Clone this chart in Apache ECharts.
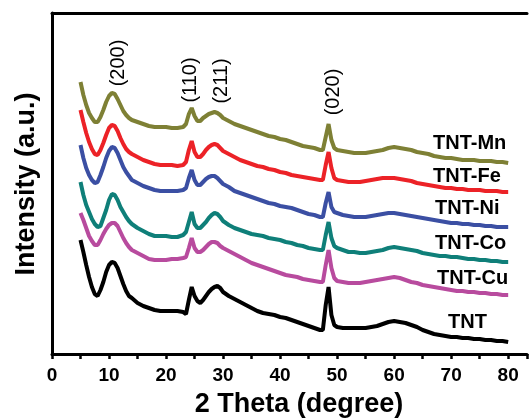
<!DOCTYPE html>
<html>
<head>
<meta charset="utf-8">
<title>XRD patterns</title>
<script src="https://cdn.jsdelivr.net/npm/echarts@6/dist/echarts.min.js"></script>
<style>
    html, body { margin: 0; padding: 0; background: #fff; }
    #chart { width: 530px; height: 418px; }
</style>
</head>
<body>
<div id="chart"></div>
<script>
// ======================
// DATA
// ======================

// 2 theta sampling (degree)
const twoTheta = [
    5, 5.5, 6, 6.5, 7, 7.5, 8, 8.5, 9, 9.5, 10, 10.5, 11, 11.5, 12, 12.5, 13, 13.5, 14,
    15, 16, 17, 18, 19, 20, 21, 22, 23,
    23.5, 24, 24.5, 25, 25.5, 26, 26.5, 27, 27.5, 28, 28.5, 29, 29.5, 30,
    31, 32, 33, 34, 35, 36, 37, 38, 39, 40, 41, 42, 43, 44, 45, 46, 47,
    47.5, 48, 48.5, 49, 49.5,
    50, 51, 52, 53, 54, 55, 56, 57, 58, 59, 60, 61, 62, 63, 64, 65, 66, 67, 68, 69, 70,
    71, 72, 73, 74, 75, 76, 77, 78, 79, 80
];

// intensities (a.u., stacked offsets as plotted)
const tnt = [
    114, 102, 89, 77, 67, 60, 58, 64, 72, 82, 89, 92, 91, 86, 78, 70, 63, 58, 56,
    51, 48, 46, 44, 43, 43, 43, 43, 42,
    40, 54, 67, 58, 53, 51, 54, 58, 62, 65, 67, 68, 66, 62,
    58, 55, 52, 49, 46, 43, 41, 40, 39, 37, 36, 34, 32, 30, 28, 26, 24,
    24, 49, 67, 39, 29,
    27, 26, 26, 26, 26, 26, 27, 28, 30, 32, 33, 32, 31, 29, 27, 24, 22, 20, 19, 18, 17,
    17, 16, 16, 15, 15, 14, 14, 13, 13, 12
];
const tntCu = [
    141, 134, 126, 118, 113, 109, 109, 114, 120, 125, 129, 131, 131, 128, 122, 116, 111, 107, 104,
    101, 98, 95, 94, 94, 94, 95, 95, 96,
    97, 106, 116, 106, 102, 102, 104, 107, 110, 112, 112, 111, 108, 106,
    103, 100, 97, 94, 91, 89, 87, 85, 83, 81, 79, 78, 77, 75, 74, 73, 72,
    72, 89, 104, 86, 76,
    73, 72, 71, 71, 71, 72, 73, 74, 75, 76, 77, 76, 74, 72, 71, 69, 68, 67, 66, 65, 64,
    63, 63, 62, 62, 61, 61, 60, 60, 59, 59
];
const tntCo = [
    172, 159, 149, 142, 135, 130, 127, 128, 136, 144, 154, 160, 159, 154, 147, 142, 137, 133, 130,
    126, 123, 120, 118, 118, 118, 117, 117, 119,
    122, 132, 142, 130, 126, 126, 129, 132, 136, 139, 141, 140, 137, 133,
    129, 126, 124, 122, 120, 119, 118, 116, 115, 114, 112, 111, 109, 108, 106, 105, 104,
    104, 119, 132, 116, 108,
    106, 104, 102, 102, 101, 101, 102, 103, 104, 106, 107, 106, 105, 104, 103, 101, 100, 99, 98, 98, 97,
    97, 96, 95, 95, 94, 94, 93, 93, 92, 92
];
const tntNi = [
    209, 196, 186, 179, 174, 171, 172, 179, 187, 196, 203, 207, 206, 201, 194, 187, 182, 178, 174,
    171, 168, 166, 164, 163, 163, 163, 163, 164,
    166, 176, 184, 174, 169, 169, 172, 175, 177, 178, 178, 176, 173, 170,
    167, 163, 161, 159, 157, 155, 153, 151, 150, 148, 147, 146, 144, 142, 140, 139, 137,
    137, 151, 162, 147, 142,
    141, 139, 138, 137, 137, 137, 138, 139, 140, 141, 141, 140, 139, 138, 137, 136, 135, 134, 133, 132, 131,
    131, 130, 130, 129, 129, 128, 128, 127, 127, 127
];
const tntFe = [
    244, 232, 221, 212, 205, 200, 199, 204, 211, 219, 226, 229, 228, 223, 216, 210, 205, 202, 200,
    197, 194, 192, 190, 189, 189, 189, 188, 189,
    192, 204, 213, 202, 197, 197, 200, 204, 207, 209, 210, 209, 206, 203,
    200, 197, 194, 192, 190, 188, 187, 185, 184, 182, 181, 179, 178, 177, 176, 175, 174,
    174, 189, 202, 186, 176,
    174, 173, 172, 172, 172, 173, 174, 175, 176, 176, 176, 175, 174, 173, 171, 170, 169, 168, 167, 166, 166,
    165, 165, 164, 164, 164, 163, 163, 163, 162, 162
];
const tntMn = [
    272, 259, 249, 241, 236, 232, 232, 237, 244, 252, 258, 261, 260, 255, 249, 243, 239, 236, 234,
    232, 230, 228, 227, 227, 227, 226, 226, 227,
    230, 240, 246, 238, 233, 233, 236, 238, 240, 241, 242, 241, 239, 236,
    233, 230, 228, 226, 224, 222, 220, 218, 217, 215, 214, 212, 210, 208, 207, 206, 204,
    204, 217, 230, 214, 206,
    204, 203, 202, 201, 201, 201, 202, 203, 204, 206, 207, 206, 205, 204, 202, 201, 200, 198, 197, 196, 196,
    195, 194, 194, 194, 193, 193, 193, 192, 192, 191
];

const seriesNames = ['TNT', 'TNT-Cu', 'TNT-Co', 'TNT-Ni', 'TNT-Fe', 'TNT-Mn'];
const seriesValues = [tnt, tntCu, tntCo, tntNi, tntFe, tntMn];
const peakLabels = ['(200)', '(110)', '(211)', '(020)'];
const xTicks = [0, 10, 20, 30, 40, 50, 60, 70, 80];

// ======================
// STYLE
// ======================

const colors = ['#000000', '#b84b9e', '#0f7f79', '#3b4fa3', '#ec2227', '#7e8035'];
const FONT = '"Liberation Sans", Arial, Helvetica, sans-serif';

// label anchor positions (px)
const seriesLabelPos = [[448, 322], [437, 278], [435, 243], [435, 208], [433, 176], [433, 143]];
const peakLabelPos = [[118, 63], [190, 80], [221, 81], [333, 92]];

// ======================
// OPTION BUILDER
// ======================

function textEl(x, y, text, font, rotation) {
    return {
        type: 'text',
        x, y,
        rotation: rotation || 0,
        style: {
            text,
            font,
            fill: '#000',
            textAlign: 'center', align: 'center',
            textVerticalAlign: 'middle', verticalAlign: 'middle'
        }
    };
}

function getChartOption() {
    const axisLineStyle = { color: '#000', width: 3 };

    const graphics = [];

    seriesNames.forEach((name, i) => {
        const [x, y] = seriesLabelPos[i];
        const el = textEl(x, y, name, 'bold 20px ' + FONT, 0);
        el.style.textAlign = 'left';
        el.style.align = 'left';
        graphics.push(el);
    });

    peakLabels.forEach((txt, i) => {
        const [x, y] = peakLabelPos[i];
        graphics.push(textEl(x, y, txt, '20px ' + FONT, Math.PI / 2));
    });

    graphics.push(textEl(27, 184, 'Intensity (a.u.)', 'bold 27px ' + FONT, Math.PI / 2));
    graphics.push(textEl(299, 405, '2 Theta (degree)', 'bold 27px ' + FONT, 0));

    return {
        animation: false,
        backgroundColor: '#fff',
        grid: { left: 52, right: 0, top: 13, bottom: 64 },
        xAxis: [
            {
                type: 'value',
                min: 0,
                max: 83.3,
                interval: 5,
                position: 'bottom',
                splitLine: { show: false },
                axisLine: { lineStyle: axisLineStyle },
                axisTick: { inside: false, length: 5, lineStyle: { color: '#000', width: 2.5 } },
                axisLabel: {
                    margin: 12,
                    color: '#000',
                    fontFamily: FONT,
                    fontWeight: 'bold',
                    fontSize: 19,
                    formatter: v => (xTicks.includes(v) ? String(v) : '')
                }
            },
            {
                type: 'value',
                min: 0,
                max: 83.3,
                position: 'top',
                splitLine: { show: false },
                axisLine: { lineStyle: axisLineStyle },
                axisTick: { show: false },
                axisLabel: { show: false }
            }
        ],
        yAxis: {
            type: 'value',
            min: 0,
            max: 341,
            splitLine: { show: false },
            axisLine: { show: true, lineStyle: axisLineStyle },
            axisTick: { show: false },
            axisLabel: { show: false }
        },
        series: seriesNames.map((name, i) => ({
            name,
            type: 'line',
            showSymbol: false,
            symbol: 'none',
            lineStyle: { color: colors[i], width: 4 },
            data: twoTheta.map((t, j) => [t, seriesValues[i][j]])
        })),
        graphic: graphics
    };
}

// ======================
// INIT CHART
// ======================

const chart = echarts.init(document.getElementById('chart'));
chart.setOption(getChartOption());
</script>
</body>
</html>
